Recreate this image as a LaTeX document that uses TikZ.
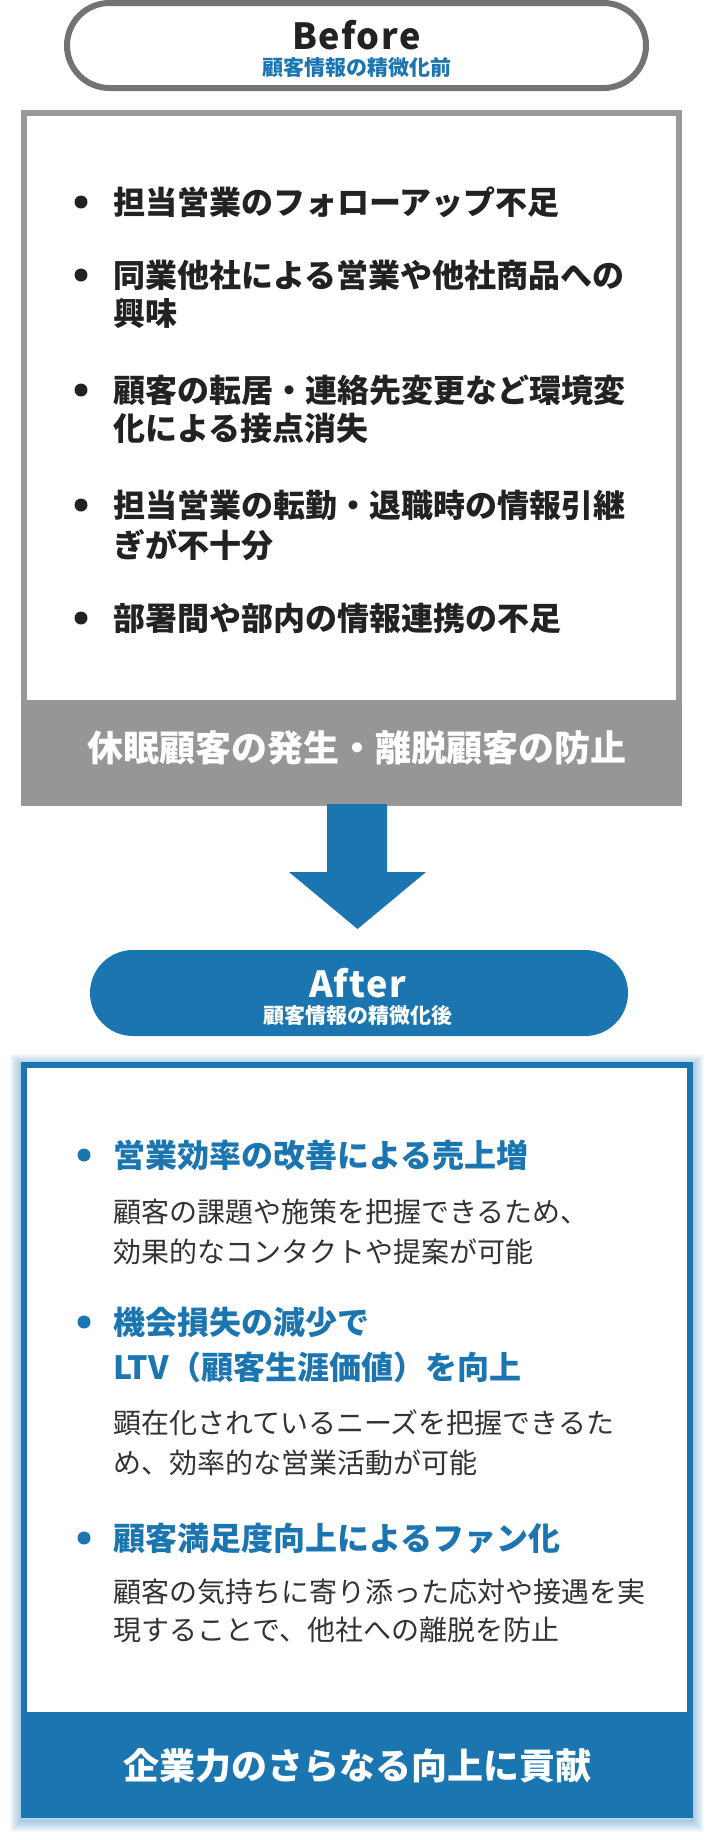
\documentclass[tikz,border=0pt]{standalone}
\usepackage{fontspec}
\setmainfont{Noto Sans CJK JP}
\definecolor{ablue}{RGB}{27,117,177}
\definecolor{pillgray}{RGB}{115,115,115}
\definecolor{boxgray}{RGB}{153,153,153}
\definecolor{bandgray}{RGB}{150,150,150}
\definecolor{ink}{RGB}{34,34,34}
\definecolor{descink}{RGB}{51,51,51}
\begin{document}
\begin{tikzpicture}[x=1pt,y=-1pt,
  linebig/.style={anchor=west, inner sep=0pt, text height=28.2pt, text depth=3.8pt,
     font=\bfseries\fontsize{32}{38}\selectfont, text=ink},
  headblue/.style={linebig, text=ablue},
  desc/.style={anchor=west, inner sep=0pt, text height=24.6pt, text depth=3.4pt,
     font=\fontsize{28}{34}\selectfont, text=descink},
  bandtext/.style={inner sep=0pt, text height=31.7pt, text depth=4.3pt,
     font=\bfseries\fontsize{36}{40}\selectfont, text=white},
  titletext/.style={inner sep=0pt, font=\bfseries\fontsize{36}{40}\selectfont\addfontfeatures{LetterSpace=4}},
  subtext/.style={inner sep=0pt, text height=18.5pt, text depth=2.5pt,
     font=\bfseries\fontsize{21}{24}\selectfont},
  dotgray/.style={circle, fill=ink, minimum size=13pt, inner sep=0pt},
  dotblue/.style={circle, fill=ablue, minimum size=13pt, inner sep=0pt}]
\useasboundingbox (0,0) rectangle (715,1840);

% ---------- Before pill ----------
\node[draw=pillgray, line width=6pt, minimum width=579pt, minimum height=85pt,
      rounded corners=42.5pt, outer sep=0pt, inner sep=0pt] (beforepill) at (356.5,45.5) {};
\node[titletext, text=ink] (beforetitle) at (356.5,35) {Before};
\node[subtext, text=ablue] (beforesub) at (356.5,67) {顧客情報の精微化前};

% ---------- Before box ----------
\node[draw=boxgray, fill=white, line width=6pt, minimum width=655pt, minimum height=690pt,
      anchor=north west, outer sep=0pt, inner sep=0pt] (beforebox) at (24,113) {};
\node[fill=bandgray, minimum width=661pt, minimum height=104pt, anchor=north west,
      outer sep=0pt, inner sep=0pt] (beforeband) at (21,700) {};
\node[bandtext] (beforebandtxt) at (357,748) {休眠顧客の発生・離脱顧客の防止};

\node[dotgray] (bb1) at (81,202) {};
\node[linebig] (bt1) at (113,202) {担当営業のフォローアップ不足};
\node[dotgray] (bb2) at (81,275) {};
\node[linebig] (bt2a) at (113,275) {同業他社による営業や他社商品への};
\node[linebig] (bt2b) at (113,313) {興味};
\node[dotgray] (bb3) at (81,390) {};
\node[linebig] (bt3a) at (113,390) {顧客の転居・連絡先変更など環境変};
\node[linebig] (bt3b) at (113,428) {化による接点消失};
\node[dotgray] (bb4) at (81,505) {};
\node[linebig] (bt4a) at (113,505) {担当営業の転勤・退職時の情報引継};
\node[linebig] (bt4b) at (113,545) {ぎが不十分};
\node[dotgray] (bb5) at (81,618) {};
\node[linebig] (bt5) at (113,618) {部署間や部内の情報連携の不足};

% ---------- Arrow ----------
\fill[ablue] (327,804) -- (327,872) -- (289,872) -- (357.5,929) -- (426,872)
  -- (387,872) -- (387,804) -- cycle;

% ---------- After pill ----------
\node[fill=ablue, minimum width=538pt, minimum height=86pt, rounded corners=43pt,
      outer sep=0pt, inner sep=0pt] (afterpill) at (359,993) {};
\node[titletext, text=white] (aftertitle) at (357.5,983) {After};
\node[subtext, text=white] (aftersub) at (357.5,1015) {顧客情報の精微化後};

% ---------- After box ----------
\foreach \i in {1,...,11}
  \draw[ablue, opacity=0.04, line width=2*\i pt] (21,1065) rectangle (693,1821);
\node[draw=ablue, fill=white, line width=6pt, minimum width=666pt, minimum height=750pt,
      anchor=north west, outer sep=0pt, inner sep=0pt] (afterbox) at (24,1065) {};
\node[fill=ablue, minimum width=672pt, minimum height=106pt, anchor=north west,
      outer sep=0pt, inner sep=0pt] (afterband) at (21,1712) {};
\node[bandtext] (afterbandtxt) at (357.5,1766) {企業力のさらなる向上に貢献};

\node[dotblue] (ab1) at (84,1155) {};
\node[headblue] (ah1) at (113,1155) {営業効率の改善による売上増};
\node[desc] (ad1a) at (113,1212) {顧客の課題や施策を把握できるため、};
\node[desc] (ad1b) at (113,1252) {効果的なコンタクトや提案が可能};

\node[dotblue] (ab2) at (84,1322) {};
\node[headblue] (ah2a) at (113,1322) {機会損失の減少で};
\node[headblue] (ah2b) at (113,1367) {LTV（顧客生涯価値）を向上};
\node[desc] (ad2a) at (113,1423) {顕在化されているニーズを把握できるた};
\node[desc] (ad2b) at (113,1463) {め、効率的な営業活動が可能};

\node[dotblue] (ab3) at (84,1538) {};
\node[headblue] (ah3) at (113,1538) {顧客満足度向上によるファン化};
\node[desc] (ad3a) at (113,1592) {顧客の気持ちに寄り添った応対や接遇を実};
\node[desc] (ad3b) at (113,1630) {現することで、他社への離脱を防止};
\end{tikzpicture}
\end{document}
